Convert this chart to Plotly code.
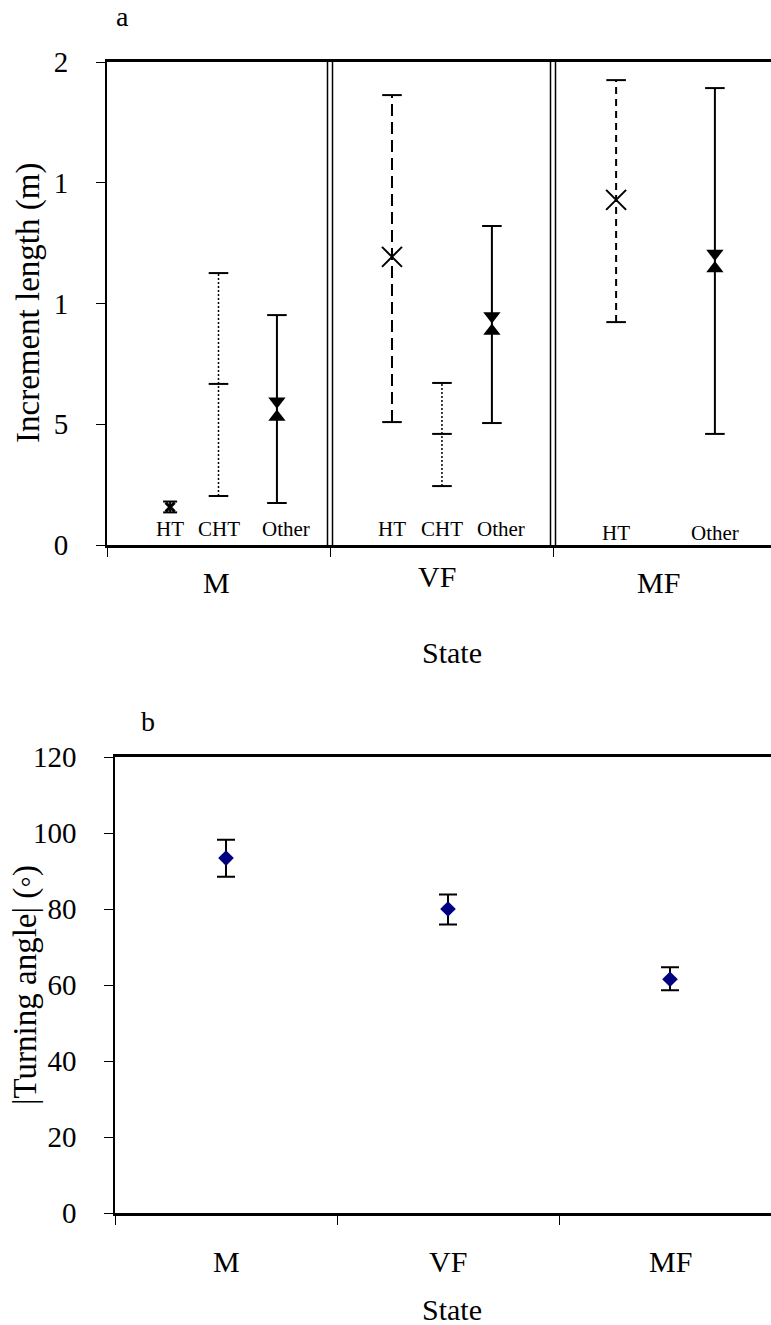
import plotly.graph_objects as go

# ---------------- Panel a data ----------------
a_group = ["M", "M", "M", "VF", "VF", "VF", "MF", "MF"]
a_type = ["HT", "CHT", "Other", "HT", "CHT", "Other", "HT", "Other"]
a_mean = [0.157, 0.667, None, 1.193, 0.460, None, 1.429, None]
a_down = [None, None, 0.595, None, None, 0.948, None, 1.207]
a_up = [None, None, 0.530, None, None, 0.886, None, 1.145]
a_low = [0.135, 0.203, 0.174, 0.509, 0.244, 0.505, 0.923, 0.460]
a_high = [0.180, 1.126, 0.952, 1.863, 0.671, 1.321, 1.925, 1.892]
a_groups = ["M", "VF", "MF"]
a_ytickvals = [0, 0.5, 1, 1.5, 2]
a_yticktext = ["0", "5", "1", "1", "2"]

# ---------------- Panel b data ----------------
b_states = ["M", "VF", "MF"]
b_mean = [93.4, 80.0, 61.5]
b_high = [98.2, 83.8, 64.7]
b_low = [88.5, 75.9, 58.6]
b_yticks = [0, 20, 40, 60, 80, 100, 120]

# ---------------- layout helpers ----------------
FONT = "Liberation Serif, Times New Roman, serif"
W, H = 771, 1325
PAD = "\u00a0\u00a0\u00a0"  # spacing between tick labels and ticks in panel b
group_index = {g: i for i, g in enumerate(a_groups)}
slot = {
    "M": {"HT": 0.283, "CHT": 0.50, "Other": 0.762},
    "VF": {"HT": 0.278, "CHT": 0.502, "Other": 0.726},
    "MF": {"HT": 0.283, "Other": 0.726},
}
dash_style = {("HT", "VF"): "12px,6px", ("HT", "MF"): "7px,5px", ("HT", "M"): "solid",
              "CHT": "2px,2px", "Other": "solid"}

def px_x(px):
    return px / W

def px_y(py):
    return 1 - py / H

fig = go.Figure()

for g, t, m, d, u, lo, hi in zip(a_group, a_type, a_mean, a_down, a_up, a_low, a_high):
    xp = group_index[g] + slot[g][t]
    dash = dash_style.get((t, g), dash_style.get(t, "solid"))
    lw = 1.5 if t == "CHT" else 2
    fig.add_trace(go.Scatter(x=[xp, xp], y=[lo, hi], mode="lines",
                             line=dict(color="black", width=lw, dash=dash),
                             xaxis="x", yaxis="y", showlegend=False, hoverinfo="skip"))
    capsize = 10 if (g == "M" and t == "HT") else 14
    fig.add_trace(go.Scatter(x=[xp, xp], y=[lo, hi], mode="markers",
                             marker=dict(symbol="line-ew", size=capsize,
                                         line=dict(color="black", width=2)),
                             xaxis="x", yaxis="y", showlegend=False, hoverinfo="skip"))
    if m is not None:
        if t == "HT":
            big = g != "M"
            fig.add_trace(go.Scatter(x=[xp], y=[m], mode="markers",
                                     marker=dict(symbol="x-thin", size=20 if big else 9,
                                                 line=dict(color="black", width=2 if big else 3)),
                                     xaxis="x", yaxis="y", showlegend=False))
        else:
            fig.add_trace(go.Scatter(x=[xp], y=[m], mode="markers",
                                     marker=dict(symbol="line-ew", size=14,
                                                 line=dict(color="black", width=2)),
                                     xaxis="x", yaxis="y", showlegend=False))
    if d is not None:
        fig.add_trace(go.Scatter(x=[xp], y=[d], mode="markers",
                                 marker=dict(symbol="triangle-down", size=15, color="black"),
                                 xaxis="x", yaxis="y", showlegend=False))
    if u is not None:
        fig.add_trace(go.Scatter(x=[xp], y=[u], mode="markers",
                                 marker=dict(symbol="triangle-up", size=15, color="black"),
                                 xaxis="x", yaxis="y", showlegend=False))

# Panel b
fig.add_trace(go.Scatter(
    x=list(range(len(b_states))), y=b_mean, mode="markers",
    marker=dict(symbol="diamond", size=12, color="#000080"),
    error_y=dict(type="data", symmetric=False,
                 array=[h - m for h, m in zip(b_high, b_mean)],
                 arrayminus=[m - l for m, l in zip(b_mean, b_low)],
                 color="black", thickness=2, width=9),
    xaxis="x2", yaxis="y2", showlegend=False))

a_left, a_bottom, a_top = 107, 545, 62
b_left, b_bottom, b_top = 115, 1213, 757
a_xmax = (W - a_left) / 223.0
b_xmax = -0.5 + (W - b_left) / 222.0

axis_common = dict(showline=True, linecolor="black", showgrid=False, zeroline=False,
                   ticks="outside", tickcolor="black", tickwidth=1, ticklen=9,
                   automargin=False,
                   tickfont=dict(family=FONT, size=29, color="black"))

fig.update_layout(
    width=W, height=H, autosize=False,
    margin=dict(l=0, r=0, t=0, b=0, pad=0, autoexpand=False),
    paper_bgcolor="white", plot_bgcolor="white",
    font=dict(family=FONT, color="black"),
    xaxis=dict(domain=[px_x(a_left), 1], range=[0, a_xmax], tickvals=[0, 1, 2],
               ticktext=["", "", ""], mirror=True, linewidth=2.5, anchor="y", **axis_common),
    yaxis=dict(domain=[px_y(a_bottom), px_y(a_top)], range=[0, 2], tickvals=a_ytickvals,
               ticktext=a_yticktext, linewidth=2, anchor="x", ticklabelstandoff=22,
               **axis_common),
    xaxis2=dict(domain=[px_x(b_left), 1], range=[-0.5, b_xmax], tickvals=[-0.5, 0.5, 1.5],
                ticktext=["", "", ""], mirror=True, linewidth=2.5, anchor="y2", **axis_common),
    yaxis2=dict(domain=[px_y(b_bottom), px_y(b_top)], range=[0, 120], tickvals=b_yticks,
                ticktext=[str(v) + PAD for v in b_yticks], linewidth=2, anchor="x2",
                **axis_common),
)

# double vertical separators in panel a
for xv in [1, 2]:
    for off in [-2.5, 2.5]:
        fig.add_shape(type="line", xref="x", yref="y", xsizemode="pixel", xanchor=xv,
                      x0=off, x1=off, y0=0, y1=2, line=dict(color="black", width=1.5))

ann = []
def add_text(text, x, y, size, xref="paper", yref="paper", angle=0, xshift=0):
    ann.append(dict(text=text, x=x, y=y, xref=xref, yref=yref, showarrow=False,
                    textangle=angle, xshift=xshift,
                    font=dict(family=FONT, size=size, color="black"),
                    xanchor="center", yanchor="middle"))

# sub-category labels
for g, t in zip(a_group, a_type):
    xp = group_index[g] + slot[g][t]
    yl = 533 if g == "MF" else 529
    shift = 9 if (t == "Other" and g != "MF") else 0
    add_text(t, xp, px_y(yl), 21, xref="x", xshift=shift)

# group labels panel a
group_label_pos = {"M": (216, 583), "VF": (437, 576), "MF": (658, 583)}
for g in a_groups:
    px, py = group_label_pos[g]
    add_text(g, px_x(px), px_y(py), 30)
add_text("State", px_x(452), px_y(652), 30)
add_text("Increment length (m)", px_x(28), px_y(303), 33, angle=-90)
add_text("a", px_x(123), px_y(17), 28)

# panel b labels
for i, s in enumerate(b_states):
    add_text(s, i, px_y(1261), 30, xref="x2")
add_text("State", px_x(452), px_y(1309), 30)
add_text("|Turning angle| (◦)", px_x(26), px_y(985), 33, angle=-90)
add_text("b", px_x(148), px_y(722), 28)

fig.update_layout(annotations=ann)
fig.write_html("out.html")
